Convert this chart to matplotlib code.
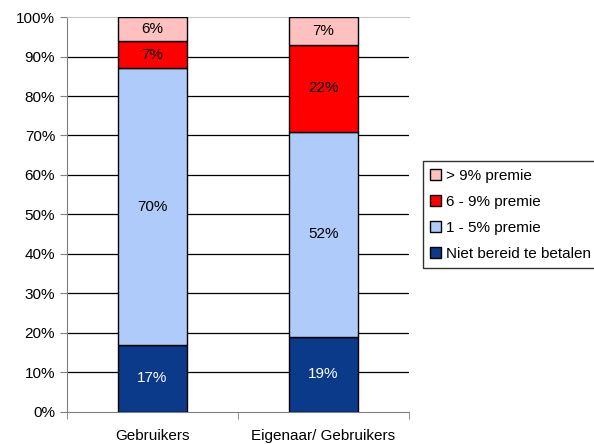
import numpy as np
import matplotlib
matplotlib.use("Agg")
import matplotlib.pyplot as plt


categories = ["Gebruikers", "Eigenaar/ Gebruikers"]
series_names = ["Niet bereid te betalen", "1 - 5% premie", "6 - 9% premie", "> 9% premie"]
niet_bereid = [17, 19]
premie_1_5 = [70, 52]
premie_6_9 = [7, 22]
premie_9 = [6, 7]

colors = ["#0B3A8A", "#AECBFA", "#FF0000", "#FFC0C0"]
text_colors = ["white", "black", "black", "black"]

plt.rcParams["font.family"] = "Liberation Sans"
FS = 11

fig = plt.figure(figsize=(5.94, 4.44), dpi=100)
ax = fig.add_axes([0.1128, 0.0721, 0.5758, 0.8896])

x = np.arange(len(categories))
bottom = np.zeros(len(categories))
handles = []
for vals, name, col, tcol in zip([niet_bereid, premie_1_5, premie_6_9, premie_9],
                                 series_names, colors, text_colors):
    vals = np.array(vals, dtype=float)
    b = ax.bar(x, vals, 0.4, bottom=bottom, color=col, edgecolor="black",
               linewidth=1, label=name, zorder=3)
    handles.append(b)
    for xi, v, bt in zip(x, vals, bottom):
        ax.text(xi, bt + v / 2, f"{int(v)}%", ha="center", va="center",
                color=tcol, fontsize=FS, zorder=4)
    bottom += vals

ax.set_xlim(-0.5, 1.5)
ax.set_ylim(0, 100)
ax.set_yticks(np.arange(0, 101, 10))
ax.set_yticklabels([f"{v}%" for v in range(0, 101, 10)], fontsize=FS)
# gridlines (top one is drawn by the light grey top spine)
for yv in range(10, 100, 10):
    ax.axhline(yv, color="black", linewidth=0.9, zorder=0)

ax.set_xticks(x)
ax.set_xticklabels(categories, fontsize=FS)
ax.set_xticks([-0.5, 0.5, 1.5], minor=True)
ax.tick_params(axis="x", which="major", length=0, pad=12)
ax.tick_params(axis="x", which="minor", length=5, direction="out", color="#808080")
ax.tick_params(axis="y", length=5, direction="out", color="#808080")

ax.spines["right"].set_visible(False)
ax.spines["top"].set_color("#C8C8C8")
ax.spines["left"].set_color("#808080")
ax.spines["bottom"].set_color("#808080")

leg = ax.legend(handles[::-1], series_names[::-1], loc="center left",
                bbox_to_anchor=(1.04, 0.499), fontsize=FS, frameon=True,
                fancybox=False, edgecolor="black", handlelength=0.7,
                handleheight=0.7, handletextpad=0.3, labelspacing=0.78,
                borderpad=0.5, borderaxespad=0)
leg.get_frame().set_linewidth(1)

fig.savefig("out.png", dpi=100)
